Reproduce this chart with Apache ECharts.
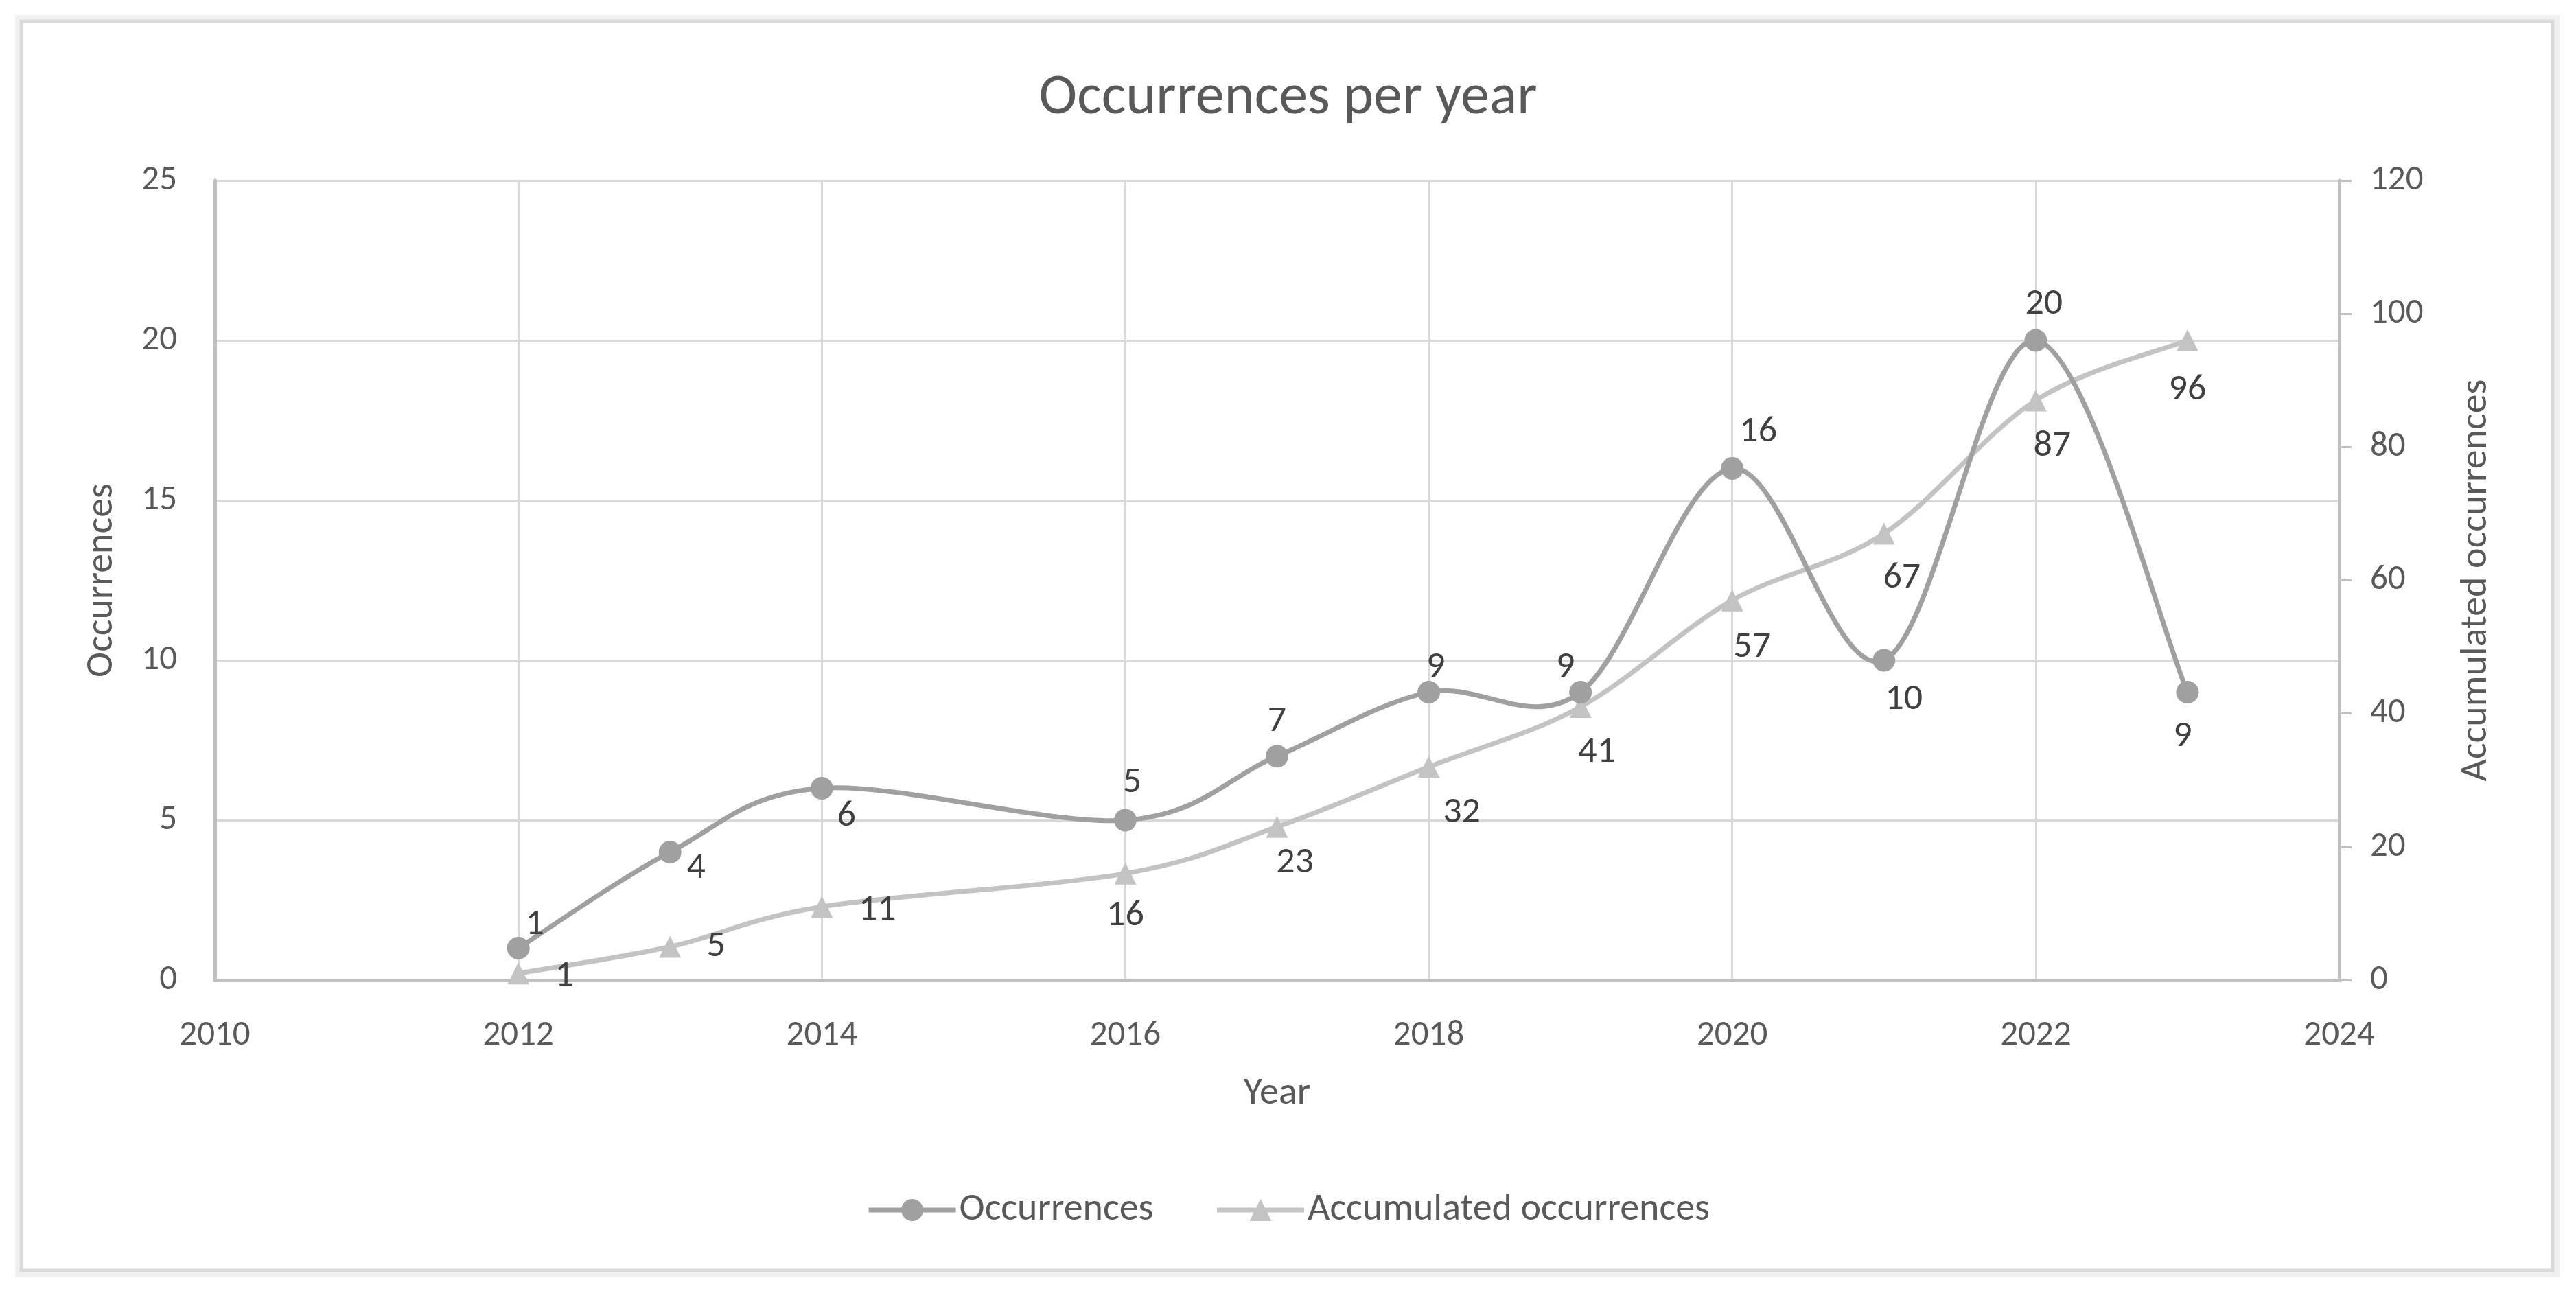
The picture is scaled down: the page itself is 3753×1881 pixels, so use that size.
<!DOCTYPE html>
<html>
<head>
<meta charset="utf-8">
<script src="https://cdn.jsdelivr.net/npm/echarts@6/dist/echarts.min.js"></script>
<style>
html,body{margin:0;padding:0;background:#fff;}
#main{width:3753px;height:1881px;}
</style>
</head>
<body>
<div id="main"></div>
<script>
// ---- data ----
var years = [2012, 2013, 2014, 2016, 2017, 2018, 2019, 2020, 2021, 2022, 2023];
var occurrences = [1, 4, 6, 5, 7, 9, 9, 16, 10, 20, 9];
var accumulated = [1, 5, 11, 16, 23, 32, 41, 57, 67, 87, 96];
var leftTicks = {min: 0, max: 25, interval: 5};
var rightTicks = {min: 0, max: 120, interval: 20};
var xTicks = {min: 2010, max: 2024, interval: 2};

// label placement (pixel offsets from marker centre)
var occLabelOffsets = [[24,-34],[38,24],[36,41],[10,-55],[0,-50],[10,-36],[-22,-36],[38,-53],[29,57],[12,-53],[-7,65]];
var accLabelOffsets = [[67,4],[67,0],[81,5],[0,62],[26,53],[48,67],[24,67],[29,69],[26,65],[24,67],[0,72]];

var FONT = "Carlito, Calibri, Lato, sans-serif";
var TEXT = '#595959';
var LABEL = '#404040';
var C1 = '#a0a0a0';
var C2 = '#c3c3c3';

function build(vals, offs) {
  return years.map(function (y, i) {
    return {value: [y, vals[i]], label: {offset: offs[i]}};
  });
}

// Excel-style smoothed curve (Bezier, 1/6 tangent) drawn through the axis scales
function smoothRenderer(vals, color) {
  return function (params, api) {
    if (params.dataIndex !== 0) return null;
    var pts = years.map(function (y, i) { return api.coord([y, vals[i]]); });
    var n = pts.length;
    var d = 'M' + pts[0][0] + ' ' + pts[0][1];
    for (var i = 0; i < n - 1; i++) {
      var p0 = pts[Math.max(i - 1, 0)], p1 = pts[i], p2 = pts[i + 1], p3 = pts[Math.min(i + 2, n - 1)];
      var c1x = p1[0] + (p2[0] - p0[0]) / 6, c1y = p1[1] + (p2[1] - p0[1]) / 6;
      var c2x = p2[0] - (p3[0] - p1[0]) / 6, c2y = p2[1] - (p3[1] - p1[1]) / 6;
      d += ' C' + c1x + ' ' + c1y + ' ' + c2x + ' ' + c2y + ' ' + p2[0] + ' ' + p2[1];
    }
    return {
      type: 'path',
      shape: {pathData: d},
      style: {fill: 'none', stroke: color, lineWidth: 7, lineJoin: 'round', lineCap: 'round'}
    };
  };
}

var chart = echarts.init(document.getElementById('main'));
chart.setOption({
  animation: false,
  backgroundColor: '#ffffff',
  graphic: [
    {type: 'rect', z: -10, shape: {x: 22, y: 22, width: 3707, height: 1839}, style: {fill: '#f0f0f0'}},
    {type: 'rect', z: -9, shape: {x: 31, y: 31, width: 3688, height: 1820}, style: {fill: '#ffffff', stroke: '#d9d9d9', lineWidth: 5}}
  ],
  title: {
    text: 'Occurrences per year',
    left: 'center',
    top: 97,
    textStyle: {fontFamily: FONT, fontSize: 84, fontWeight: 'normal', color: TEXT}
  },
  legend: {
    bottom: 85,
    left: 'center',
    itemWidth: 127,
    itemHeight: 40,
    itemGap: 89,
    textStyle: {fontFamily: FONT, fontSize: 56, color: TEXT},
    data: [
      {name: 'Occurrences', lineStyle: {color: C1, width: 7, opacity: 1}},
      {name: 'Accumulated occurrences', lineStyle: {color: C2, width: 7, opacity: 1}}
    ]
  },
  grid: {left: 313, right: 345, top: 263, bottom: 453, containLabel: false},
  xAxis: {
    type: 'value',
    min: xTicks.min, max: xTicks.max, interval: xTicks.interval,
    name: 'Year', nameLocation: 'middle', nameGap: 138,
    nameTextStyle: {fontFamily: FONT, fontSize: 56, color: TEXT},
    axisLine: {show: true, lineStyle: {color: '#bfbfbf', width: 5}},
    axisTick: {show: false},
    axisLabel: {fontFamily: FONT, fontSize: 51, color: TEXT, margin: 56, formatter: function (v) { return String(v); }},
    splitLine: {show: true, lineStyle: {color: '#d9d9d9', width: 3}}
  },
  yAxis: [
    {
      type: 'value',
      min: leftTicks.min, max: leftTicks.max, interval: leftTicks.interval,
      name: 'Occurrences', nameLocation: 'middle', nameGap: 136, nameRotate: 90,
      nameTextStyle: {fontFamily: FONT, fontSize: 56, color: TEXT},
      axisLine: {show: true, lineStyle: {color: '#bfbfbf', width: 5}},
      axisTick: {show: false},
      axisLabel: {fontFamily: FONT, fontSize: 51, color: TEXT, margin: 55},
      splitLine: {show: true, lineStyle: {color: '#d9d9d9', width: 3}}
    },
    {
      type: 'value', position: 'right',
      min: rightTicks.min, max: rightTicks.max, interval: rightTicks.interval,
      name: 'Accumulated occurrences', nameLocation: 'middle', nameGap: 172, nameRotate: 90,
      nameTextStyle: {fontFamily: FONT, fontSize: 56, color: TEXT},
      axisLine: {show: true, lineStyle: {color: '#bfbfbf', width: 5}},
      axisTick: {show: true, inside: false, length: 18, lineStyle: {color: '#bfbfbf', width: 3}},
      axisLabel: {fontFamily: FONT, fontSize: 51, color: TEXT, margin: 45},
      splitLine: {show: false}
    }
  ],
  series: [
    {
      type: 'custom',
      yAxisIndex: 1,
      z: 2,
      silent: true,
      renderItem: smoothRenderer(accumulated, C2),
      data: accumulated.map(function (v, i) { return [years[i], v]; })
    },
    {
      type: 'custom',
      yAxisIndex: 0,
      z: 3,
      silent: true,
      renderItem: smoothRenderer(occurrences, C1),
      data: occurrences.map(function (v, i) { return [years[i], v]; })
    },
    {
      name: 'Accumulated occurrences',
      type: 'line',
      yAxisIndex: 1,
      symbol: 'triangle',
      symbolSize: 32,
      z: 4,
      lineStyle: {color: C2, width: 7, opacity: 0},
      itemStyle: {color: C2},
      label: {show: true, position: 'inside', fontFamily: FONT, fontSize: 54, color: LABEL},
      data: build(accumulated, accLabelOffsets)
    },
    {
      name: 'Occurrences',
      type: 'line',
      yAxisIndex: 0,
      symbol: 'circle',
      symbolSize: 33,
      z: 5,
      lineStyle: {color: C1, width: 7, opacity: 0},
      itemStyle: {color: C1},
      label: {show: true, position: 'inside', fontFamily: FONT, fontSize: 54, color: LABEL},
      data: build(occurrences, occLabelOffsets)
    }
  ]
});
</script>
</body>
</html>
